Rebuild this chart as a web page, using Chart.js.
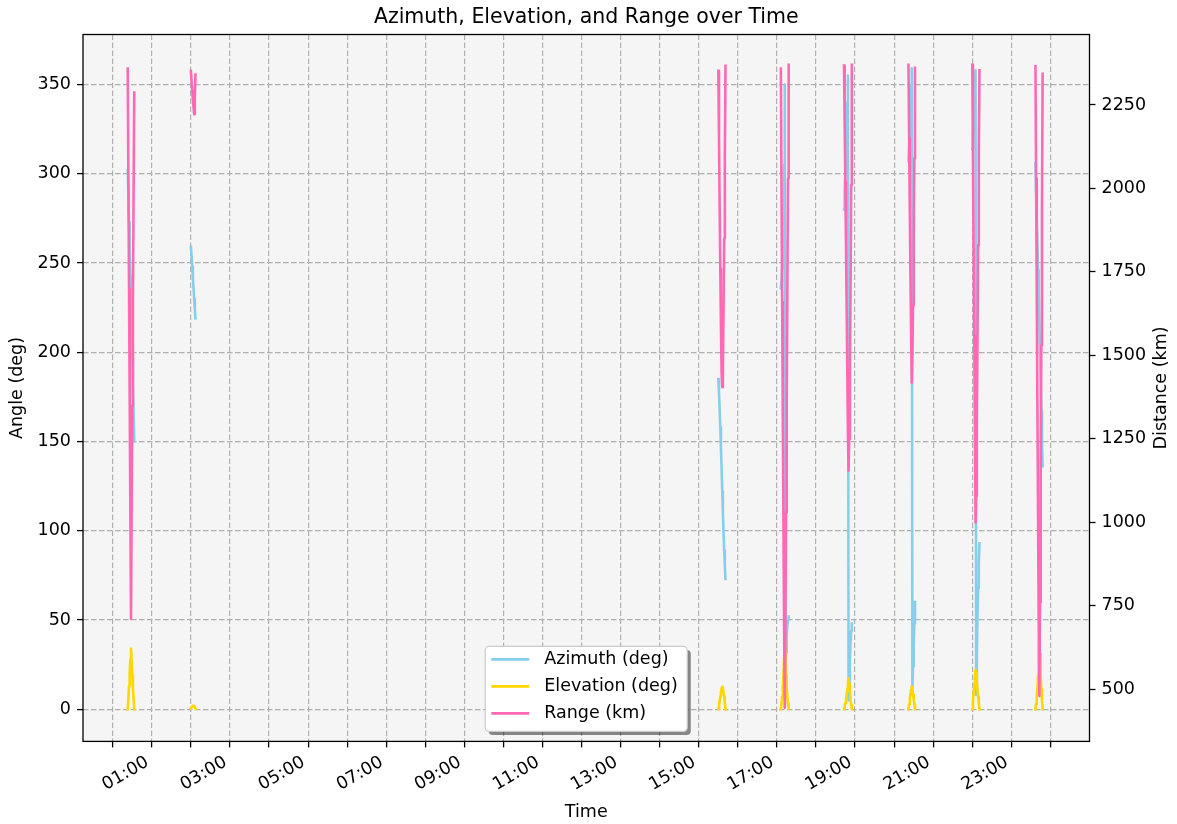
<!DOCTYPE html>
<html>
<head>
<meta charset="utf-8">
<script src="https://cdn.jsdelivr.net/npm/chart.js"></script>
<style>
  html, body { margin: 0; padding: 0; background: #fff; overflow: hidden; }
</style>
</head>
<body>
<canvas id="myChart" width="1177" height="824"></canvas>
<script>
// first sample of each pass, minutes after 00:00 (one sample per minute)
var passStart = [23, 120, 930, 1026, 1123, 1222, 1320, 1417];

var azimuth = [
  [302, 288, 273, 258, 243, 228, 213, 197, 181, 166, 150],
  [259, 254, 248, 242, 236, 230, 224, 219],
  [185, 177, 168, 158, 147, 135, 122, 110, 99, 89, 80, 73],
  [236, 240, 247, 258, 275, 305, 350, 15, 32, 42, 47, 50, 52],
  [280, 290, 301, 313, 326, 340, 355, 5, 15, 27, 37, 44, 48],
  [307, 316, 326, 337, 349, 359, 12, 24, 36, 48, 60],
  [314, 322, 331, 341, 352, 358, 8, 30, 52, 68, 82, 93],
  [306, 291, 276, 261, 246, 231, 215, 199, 183, 167, 151, 136]
];

var elevation = [
  [0, 6, 13, 20, 28, 34, 27, 19, 12, 6, 0],
  [0.4, 1.1, 1.6, 1.9, 2.0, 1.7, 1.1, 0.3],
  [0, 2.2, 4.6, 7.2, 9.6, 11.6, 12.5, 11.6, 9.5, 6.8, 3.6, 0],
  [0, 3, 7, 12, 19, 29, 40, 30, 19, 12, 7, 3, 0],
  [0, 1.5, 3.5, 5.5, 8, 11, 14.5, 17.4, 14, 10, 6, 2.5, 0],
  [0, 2.8, 5.6, 8.2, 10.8, 12.7, 11, 8.4, 5.6, 2.8, 0],
  [0, 4.5, 9, 13.5, 18, 22, 20, 15.5, 11, 7, 3.5, 0],
  [0, 3, 7, 12, 19, 30, 44, 31, 19, 11, 5, 0]
];

var rangeKm = [
  [2359, 2030, 1700, 1370, 1040, 711, 1030, 1350, 1670, 1980, 2287],
  [2352, 2322, 2294, 2268, 2244, 2222, 2270, 2341],
  [2352, 2150, 1950, 1760, 1590, 1450, 1405, 1470, 1640, 1850, 2100, 2367],
  [2359, 2010, 1660, 1320, 1000, 690, 445, 700, 1030, 1360, 1700, 2030, 2370],
  [2368, 2200, 2020, 1840, 1650, 1460, 1270, 1155, 1250, 1440, 1700, 2010, 2370],
  [2370, 2150, 1940, 1750, 1570, 1418, 1500, 1650, 1850, 2090, 2361],
  [2370, 2100, 1830, 1560, 1290, 1000, 1080, 1300, 1560, 1830, 2100, 2354],
  [2366, 2030, 1690, 1350, 1020, 700, 480, 760, 1140, 1530, 1930, 2343]
];

var hourTicks = [0, 60, 120, 180, 240, 300, 360, 420, 480, 540, 600, 660, 720,
                 780, 840, 900, 960, 1020, 1080, 1140, 1200, 1260, 1320, 1380, 1440];
var angleTicks = [0, 50, 100, 150, 200, 250, 300, 350];
var distTicks = [500, 750, 1000, 1250, 1500, 1750, 2000, 2250];

var FONT = 'DejaVu Sans';
var gridColor = '#b0b0b0';

// passes are drawn as separate pieces: a null point breaks the line
function toPoints(series) {
  var pts = [];
  series.forEach(function (pass, i) {
    pass.forEach(function (v, j) {
      pts.push({ x: passStart[i] + j, y: v });
    });
    pts.push({ x: passStart[i] + pass.length, y: null });
  });
  return pts;
}

function hourLabel(v) {
  var h = Math.round(v / 60);
  if (h % 2 !== 1) return '';
  return (h < 10 ? '0' : '') + h + ':00';
}

function plainLabel(v) { return String(v); }

function fixTicks(list) {
  return function (scale) {
    scale.ticks = list.map(function (v) { return { value: v }; });
  };
}

var bgPlugin = {
  id: 'bg',
  beforeDraw: function (chart) {
    var ctx = chart.ctx, a = chart.chartArea;
    ctx.save();
    ctx.fillStyle = '#ffffff';
    ctx.fillRect(0, 0, chart.width, chart.height);
    ctx.fillStyle = '#f5f5f5';
    ctx.fillRect(a.left, a.top, a.right - a.left, a.bottom - a.top);
    ctx.restore();
  }
};

var framePlugin = {
  id: 'frame',
  afterDatasetsDraw: function (chart) {
    var ctx = chart.ctx, a = chart.chartArea;
    ctx.save();
    ctx.strokeStyle = '#000';
    ctx.lineWidth = 1.3;
    ctx.strokeRect(a.left, a.top, a.right - a.left, a.bottom - a.top);
    ctx.restore();
  }
};

// right axis label reads bottom-to-top like the left one
var rightTitlePlugin = {
  id: 'rightTitle',
  afterDraw: function (chart) {
    var ctx = chart.ctx, a = chart.chartArea;
    ctx.save();
    ctx.font = '17.5px "' + FONT + '"';
    ctx.fillStyle = '#000';
    ctx.textAlign = 'center';
    ctx.textBaseline = 'middle';
    ctx.translate(chart.width - 15.3, (a.top + a.bottom) / 2);
    ctx.rotate(-Math.PI / 2);
    ctx.fillText('Distance (km)', 0, 0);
    ctx.restore();
  }
};

// matplotlib style legend, lower center inside the plot
var legendPlugin = {
  id: 'boxLegend',
  afterDraw: function (chart) {
    var ctx = chart.ctx, a = chart.chartArea;
    var items = chart.data.datasets;
    ctx.save();
    ctx.font = '17.5px "' + FONT + '"';
    var textW = 0;
    items.forEach(function (d) { textW = Math.max(textW, ctx.measureText(d.label).width); });
    var w = 59 + textW + 9.5, h = 85;
    var x = (a.left + a.right) / 2 - w / 2;
    var y = a.bottom - 10 - h;

    ctx.fillStyle = 'rgba(0,0,0,0.45)';
    ctx.beginPath();
    ctx.roundRect(x + 3.5, y + 3.5, w, h, 4);
    ctx.fill();

    ctx.fillStyle = '#ffffff';
    ctx.strokeStyle = '#cccccc';
    ctx.lineWidth = 1.2;
    ctx.beginPath();
    ctx.roundRect(x, y, w, h, 4);
    ctx.fill();
    ctx.stroke();

    items.forEach(function (d, i) {
      var cy = y + 13 + i * 27;
      ctx.strokeStyle = d.borderColor;
      ctx.lineWidth = 2.6;
      ctx.beginPath();
      ctx.moveTo(x + 6, cy);
      ctx.lineTo(x + 44, cy);
      ctx.stroke();
      ctx.fillStyle = '#000';
      ctx.textBaseline = 'middle';
      ctx.textAlign = 'left';
      ctx.fillText(d.label, x + 59, cy);
    });
    ctx.restore();
  }
};

Chart.defaults.font.family = FONT;
Chart.defaults.font.size = 17.5;
Chart.defaults.color = '#000';

var dataObj = {
  type: 'line',
  data: {
    datasets: [
      { label: 'Azimuth (deg)', data: toPoints(azimuth), borderColor: '#87CEEB', yAxisID: 'y', order: 3 },
      { label: 'Elevation (deg)', data: toPoints(elevation), borderColor: '#FFD700', yAxisID: 'y', order: 2 },
      { label: 'Range (km)', data: toPoints(rangeKm), borderColor: '#FF69B4', yAxisID: 'y1', order: 1 }
    ]
  },
  options: {
    responsive: false,
    animation: false,
    spanGaps: false,
    layout: { padding: 0 },
    elements: {
      point: { radius: 0 },
      line: { borderWidth: 2.6, tension: 0, borderJoinStyle: 'round', borderCapStyle: 'square', fill: false }
    },
    plugins: {
      legend: { display: false },
      tooltip: { enabled: false },
      title: {
        display: true,
        fullSize: false,
        text: 'Azimuth, Elevation, and Range over Time',
        color: '#000',
        font: { family: FONT, size: 20.5, weight: 'normal' },
        padding: { top: 5, bottom: 4.9 }
      }
    },
    scales: {
      x: {
        type: 'linear',
        bounds: 'data',
        min: -45.7,
        max: 1500,
        afterBuildTicks: fixTicks(hourTicks),
        afterFit: function (s) { s.height = 82.6; },
        ticks: {
          autoSkip: false,
          minRotation: 30,
          maxRotation: 30,
          labelOffset: -4.4,
          padding: 4.6,
          callback: hourLabel
        },
        grid: { color: gridColor, lineWidth: 1.2, tickLength: 6, tickColor: '#000', tickWidth: 1.3 },
        border: { display: false, dash: [5.5, 2.5] },
        title: { display: true, text: 'Time', padding: { top: 0, bottom: 1.5 } }
      },
      y: {
        type: 'linear',
        position: 'left',
        bounds: 'data',
        min: -18,
        max: 378,
        afterBuildTicks: fixTicks(angleTicks),
        afterFit: function (s) { s.width = 83; },
        ticks: { padding: 6, callback: plainLabel },
        grid: { color: gridColor, lineWidth: 1.2, tickLength: 6, tickColor: '#000', tickWidth: 1.3 },
        border: { display: false, dash: [5.5, 2.5] },
        title: { display: true, text: 'Angle (deg)', padding: { top: 6.5, bottom: 0 } }
      },
      y1: {
        type: 'linear',
        position: 'right',
        bounds: 'data',
        min: 344.3,
        max: 2461,
        afterBuildTicks: fixTicks(distTicks),
        afterFit: function (s) { s.width = 87.5; },
        ticks: { padding: 6, callback: plainLabel },
        grid: { drawOnChartArea: false, tickLength: 6, tickColor: '#000', tickWidth: 1.3 },
        border: { display: false },
        title: { display: false }
      }
    }
  },
  plugins: [bgPlugin, framePlugin, rightTitlePlugin, legendPlugin]
};

var ctx = document.getElementById('myChart').getContext('2d');
window.myLine = new Chart(ctx, dataObj);
</script>
</body>
</html>
